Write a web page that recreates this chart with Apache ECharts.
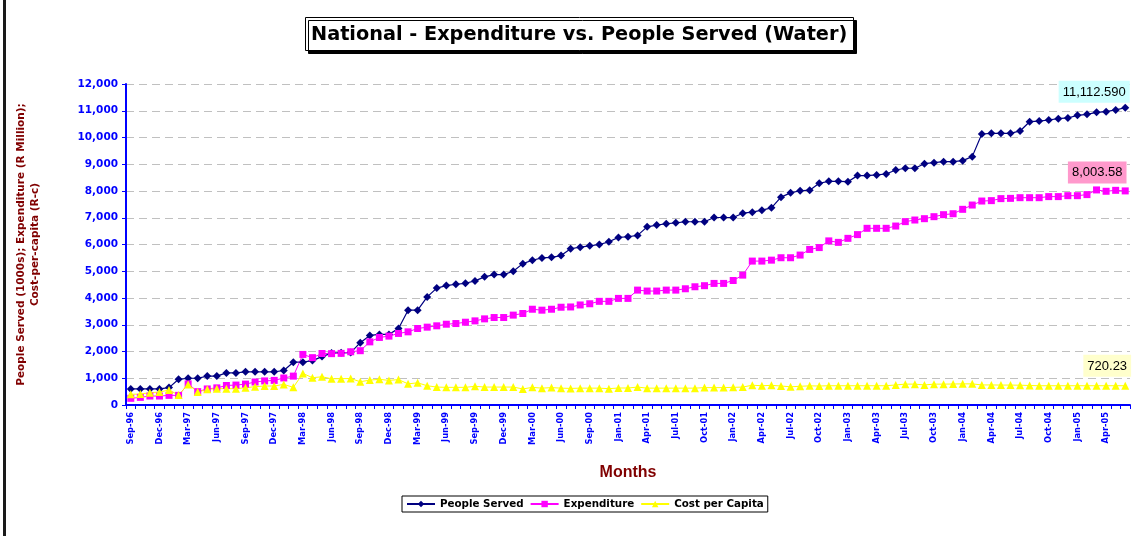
<!DOCTYPE html>
<html lang="en">
<head>
    <meta charset="UTF-8">
    <title>National - Expenditure vs. People Served (Water)</title>
</head>
<body style="margin:0;background:#fff">
<div id="main" style="width:1137px;height:536px"></div>
<script src="https://cdn.jsdelivr.net/npm/echarts@6/dist/echarts.min.js"></script>
<script>
    // months (Dec-00 is absent in the source sheet)
    var categories = [
        'Sep-96','Oct-96','Nov-96','Dec-96',
        'Jan-97','Feb-97','Mar-97','Apr-97','May-97','Jun-97','Jul-97','Aug-97','Sep-97','Oct-97','Nov-97','Dec-97',
        'Jan-98','Feb-98','Mar-98','Apr-98','May-98','Jun-98','Jul-98','Aug-98','Sep-98','Oct-98','Nov-98','Dec-98',
        'Jan-99','Feb-99','Mar-99','Apr-99','May-99','Jun-99','Jul-99','Aug-99','Sep-99','Oct-99','Nov-99','Dec-99',
        'Jan-00','Feb-00','Mar-00','Apr-00','May-00','Jun-00','Jul-00','Aug-00','Sep-00','Oct-00','Nov-00',
        'Jan-01','Feb-01','Mar-01','Apr-01','May-01','Jun-01','Jul-01','Aug-01','Sep-01','Oct-01','Nov-01','Dec-01',
        'Jan-02','Feb-02','Mar-02','Apr-02','May-02','Jun-02','Jul-02','Aug-02','Sep-02','Oct-02','Nov-02','Dec-02',
        'Jan-03','Feb-03','Mar-03','Apr-03','May-03','Jun-03','Jul-03','Aug-03','Sep-03','Oct-03','Nov-03','Dec-03',
        'Jan-04','Feb-04','Mar-04','Apr-04','May-04','Jun-04','Jul-04','Aug-04','Sep-04','Oct-04','Nov-04','Dec-04',
        'Jan-05','Feb-05','Mar-05','Apr-05','May-05','Jun-05'
    ];

    // people served (1000s)
    var peopleServed = [
        600,600,600,600,650,960,1000,1000,1080,1080,
        1200,1200,1240,1240,1240,1240,1290,1600,1600,1660,
        1810,1940,1950,1960,2330,2600,2640,2640,2860,3545,
        3545,4040,4370,4465,4515,4550,4640,4790,4875,4875,
        5000,5285,5410,5500,5520,5585,5840,5900,5950,6000,
        6100,6265,6290,6340,6660,6725,6775,6810,6850,6850,
        6850,7010,7010,7010,7170,7210,7285,7370,7770,7930,
        8010,8030,8290,8360,8360,8350,8575,8575,8600,8635,
        8785,8850,8850,9020,9060,9095,9095,9135,9285,10130,
        10155,10155,10155,10245,10590,10615,10655,10705,10730,10830,
        10865,10940,10965,11030,11112.59
    ];

    // expenditure (R million)
    var expenditure = [
        250,285,335,335,360,360,790,500,600,640,
        730,745,780,860,900,920,1010,1080,1890,1770,
        1925,1920,1930,1990,2030,2360,2525,2575,2675,2735,
        2860,2910,2960,3020,3045,3095,3145,3220,3270,3270,
        3360,3420,3580,3545,3580,3655,3665,3740,3785,3875,
        3875,3985,3985,4295,4260,4260,4295,4295,4345,4420,
        4460,4545,4545,4655,4855,5380,5380,5415,5505,5505,
        5605,5815,5885,6135,6080,6230,6370,6605,6605,6605,
        6690,6855,6915,6965,7040,7115,7150,7315,7475,7625,
        7640,7715,7725,7750,7750,7750,7790,7790,7825,7825,
        7865,8040,7990,8025,8003.58
    ];

    // cost per capita (R-c)
    var costPerCapita = [
        400,410,460,485,560,375,770,485,585,610,
        610,610,645,685,710,710,770,660,1180,1020,
        1055,980,985,990,870,930,960,920,950,790,
        830,720,670,660,660,660,700,670,670,670,
        670,600,660,630,650,630,620,630,630,630,
        610,635,635,670,630,630,630,630,630,630,
        650,650,650,660,670,740,720,735,710,680,
        700,715,710,720,720,720,720,720,720,720,
        750,780,780,750,780,780,785,790,790,750,
        750,745,745,740,730,720,720,720,720,720,
        720,720,720,720,720.23
    ];

    var blue = '#0000ff';
    var darkRed = '#800000';
    var boldFont = 'DejaVu Sans';

    // put a boxed value label on the last point only
    function withEndLabel(arr, label) {
        return arr.map(function (v, i) {
            if (i === arr.length - 1) {
                return {value: v, label: label};
            }
            return v;
        });
    }

    function endLabel(bg, decimals, dist, dx) {
        return {
            show: true,
            position: 'top',
            distance: dist,
            offset: [dx, 0],
            backgroundColor: bg,
            padding: [5, 4, 4, 4],
            color: '#000',
            fontFamily: 'Liberation Sans',
            fontSize: 13,
            formatter: function (p) {
                return Number(p.value).toLocaleString('en-US', {
                    minimumFractionDigits: decimals,
                    maximumFractionDigits: decimals
                });
            }
        };
    }

    var myChart = echarts.init(document.getElementById('main'));

    myChart.setOption({
        animation: false,
        backgroundColor: '#fff',
        title: {
            text: 'National - Expenditure vs. People Served (Water)',
            left: 305,
            top: 17,
            padding: [8, 6, 7, 6],
            backgroundColor: '#fff',
            borderColor: '#000',
            borderWidth: 1,
            shadowColor: '#000',
            shadowOffsetX: 3,
            shadowOffsetY: 3,
            shadowBlur: 0,
            textStyle: {
                fontFamily: boldFont,
                fontWeight: 'bold',
                fontSize: 19.3,
                color: '#000'
            }
        },
        legend: {
            left: 402,
            top: 496,
            orient: 'horizontal',
            borderColor: '#000',
            borderWidth: 1,
            padding: [3, 4],
            itemGap: 6,
            itemWidth: 28,
            itemHeight: 8,
            textStyle: {
                fontFamily: boldFont,
                fontWeight: 'bold',
                fontSize: 10.3,
                color: '#000'
            },
            data: ['People Served', 'Expenditure', 'Cost per Capita']
        },
        grid: {
            left: 126,
            right: 7,
            top: 84,
            bottom: 131
        },
        xAxis: {
            type: 'category',
            data: categories,
            boundaryGap: true,
            name: 'Months',
            nameLocation: 'middle',
            nameGap: 60,
            nameTextStyle: {
                fontFamily: 'Liberation Sans',
                fontWeight: 'bold',
                fontSize: 16,
                color: darkRed
            },
            axisLine: {lineStyle: {color: blue, width: 2}},
            axisTick: {
                show: true,
                interval: 0,
                length: 4,
                lineStyle: {color: blue, width: 1}
            },
            axisLabel: {
                interval: 2,
                rotate: 90,
                margin: 7,
                color: blue,
                fontFamily: boldFont,
                fontWeight: 'bold',
                fontSize: 8.3
            },
            splitLine: {show: false}
        },
        yAxis: {
            type: 'value',
            min: 0,
            max: 12000,
            interval: 1000,
            name: 'People Served (1000s); Expenditure (R Million);\nCost-per-capita (R-c)',
            nameLocation: 'middle',
            nameRotate: 90,
            nameGap: 84,
            nameTextStyle: {
                fontFamily: boldFont,
                fontWeight: 'bold',
                fontSize: 10.5,
                lineHeight: 13.5,
                color: darkRed,
                align: 'center'
            },
            axisLine: {show: true, lineStyle: {color: blue, width: 2}},
            axisTick: {show: true, length: 4, lineStyle: {color: blue, width: 1}},
            axisLabel: {
                margin: 8,
                color: blue,
                fontFamily: boldFont,
                fontWeight: 'bold',
                fontSize: 10.5,
                formatter: function (v) {
                    return v.toLocaleString('en-US');
                }
            },
            splitLine: {
                show: true,
                lineStyle: {color: '#c0c0c0', type: [8, 5], width: 1}
            }
        },
        graphic: [{
            type: 'rect',
            left: 3,
            top: 0,
            shape: {width: 3, height: 536},
            style: {fill: '#1a1a1a'}
        }],
        series: [
            {
                name: 'People Served',
                type: 'line',
                data: withEndLabel(peopleServed, endLabel('#ccffff', 3, 1, -31)),
                symbol: 'diamond',
                symbolSize: 8,
                showSymbol: true,
                showAllSymbol: true,
                lineStyle: {color: '#000080', width: 1.2},
                itemStyle: {color: '#000080'}
            },
            {
                name: 'Expenditure',
                type: 'line',
                data: withEndLabel(expenditure, endLabel('#ff99cc', 2, 4, -28)),
                symbol: 'rect',
                symbolSize: 7,
                showSymbol: true,
                showAllSymbol: true,
                lineStyle: {color: '#ff00ff', width: 1},
                itemStyle: {color: '#ff00ff'}
            },
            {
                name: 'Cost per Capita',
                type: 'line',
                data: withEndLabel(costPerCapita, endLabel('#ffffcc', 2, 5, -18)),
                symbol: 'triangle',
                symbolSize: 8,
                showSymbol: true,
                showAllSymbol: true,
                lineStyle: {color: '#ffff00', width: 1},
                itemStyle: {color: '#ffff00'}
            }
        ]
    });
</script>
</body>
</html>
